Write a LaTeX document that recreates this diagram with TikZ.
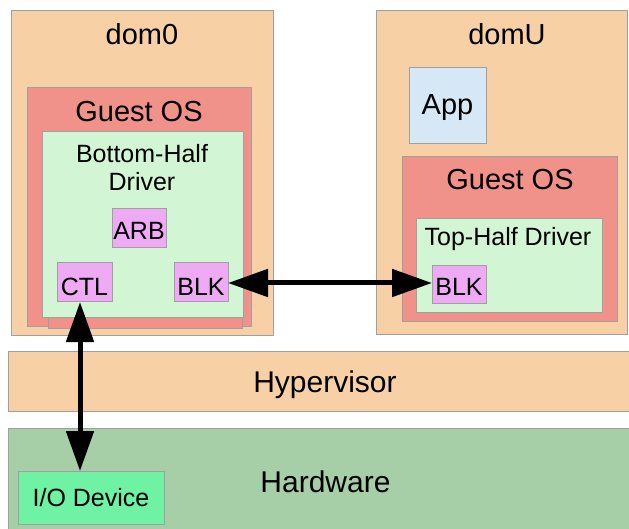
\documentclass[tikz,border=0pt]{standalone}
\usepackage{fontspec}
\setmainfont{Liberation Sans}
\usetikzlibrary{arrows.meta}

\definecolor{domfill}{HTML}{F7D1A5}
\definecolor{osfill}{HTML}{F0918A}
\definecolor{drvfill}{HTML}{D2F6D4}
\definecolor{modfill}{HTML}{EFAAF6}
\definecolor{appfill}{HTML}{D6E8F5}
\definecolor{hwfill}{HTML}{A7CFA7}
\definecolor{iofill}{HTML}{70F2A4}
\definecolor{edge}{HTML}{A0A0A0}

\tikzset{
  box/.style={draw=edge, line width=1pt, rectangle, inner sep=0pt, outer sep=0pt, anchor=north west},
  lbl/.style={anchor=base, inner sep=0pt, font=\fontsize{29}{34}\selectfont},
  lblbig/.style={anchor=base, inner sep=0pt, font=\fontsize{30}{35}\selectfont},
  lblsm/.style={anchor=base, inner sep=0pt, font=\fontsize{25}{29}\selectfont},
  link/.style={line width=5pt, {Triangle[length=40pt,width=27pt]}-{Triangle[length=40pt,width=27pt]}}
}

\begin{document}
\begin{tikzpicture}[x=1pt, y=-1pt]
\useasboundingbox (0,0) rectangle (629,529);
\clip (0,0) rectangle (629,529);

% dom0
\node[box, fill=domfill, minimum width=262pt, minimum height=324pt] (dom0) at (11,11) {};
\node[lbl] (dom0t) at (142,45) {dom0};
\node[box, fill=osfill, minimum width=224pt, minimum height=238pt] (os0) at (27,88) {};
\node[box, fill=osfill, minimum width=194pt, minimum height=188pt] (os0b) at (48,140) {};
\node[lbl] (os0t) at (139,122) {Guest OS};
\node[box, fill=drvfill, minimum width=201pt, minimum height=185pt] (drv0) at (42,132) {};
\node[lblsm] (drv0t1) at (142,163) {Bottom-Half};
\node[lblsm] (drv0t2) at (142,191) {Driver};
\node[box, fill=modfill, minimum width=54pt, minimum height=39pt] (arb) at (112,209) {};
\node[lblsm] (arbt) at (139,240) {ARB};
\node[box, fill=modfill, minimum width=55pt, minimum height=39pt] (ctl) at (57,263) {};
\node[lblsm] (ctlt) at (84.5,295) {CTL};
\node[box, fill=modfill, minimum width=54pt, minimum height=39pt] (blk0) at (174,263) {};
\node[lblsm] (blk0t) at (201,295) {BLK};

% domU
\node[box, fill=domfill, minimum width=251pt, minimum height=323pt] (domU) at (376,11) {};
\node[lbl] (domUt) at (507,45) {domU};
\node[box, fill=appfill, minimum width=77pt, minimum height=76pt] (app) at (409,68) {};
\node[lbl] (appt) at (447.5,115) {App};
\node[box, fill=osfill, minimum width=215pt, minimum height=164pt] (osU) at (402,157) {};
\node[lbl] (osUt) at (510,190) {Guest OS};
\node[box, fill=drvfill, minimum width=186pt, minimum height=93pt] (drvU) at (416,219) {};
\node[lblsm] (drvUt) at (508,246) {Top-Half Driver};
\node[box, fill=modfill, minimum width=54pt, minimum height=38pt] (blk1) at (432,266) {};
\node[lblsm] (blk1t) at (459,295) {BLK};

% hypervisor and hardware layers
\node[box, fill=domfill, minimum width=640pt, minimum height=60pt] (hyp) at (8,351) {};
\node[lblbig] (hypt) at (325,392) {Hypervisor};
\node[box, fill=hwfill, minimum width=640pt, minimum height=120pt] (hw) at (8,428) {};
\node[lblbig] (hwt) at (325.5,492) {Hardware};
\node[box, fill=iofill, minimum width=146pt, minimum height=53pt] (io) at (18,471) {};
\node[lblsm] (iot) at (91,506) {I/O Device};

% connectors
\coordinate (row) at (0,283);
\coordinate (ctltip) at ([xshift=-4.5pt]ctl.south);
\draw[link] (blk0.east |- row) -- (blk1.west |- row);
\draw[link] (ctltip) -- (ctltip |- io.north);
\end{tikzpicture}
\end{document}
